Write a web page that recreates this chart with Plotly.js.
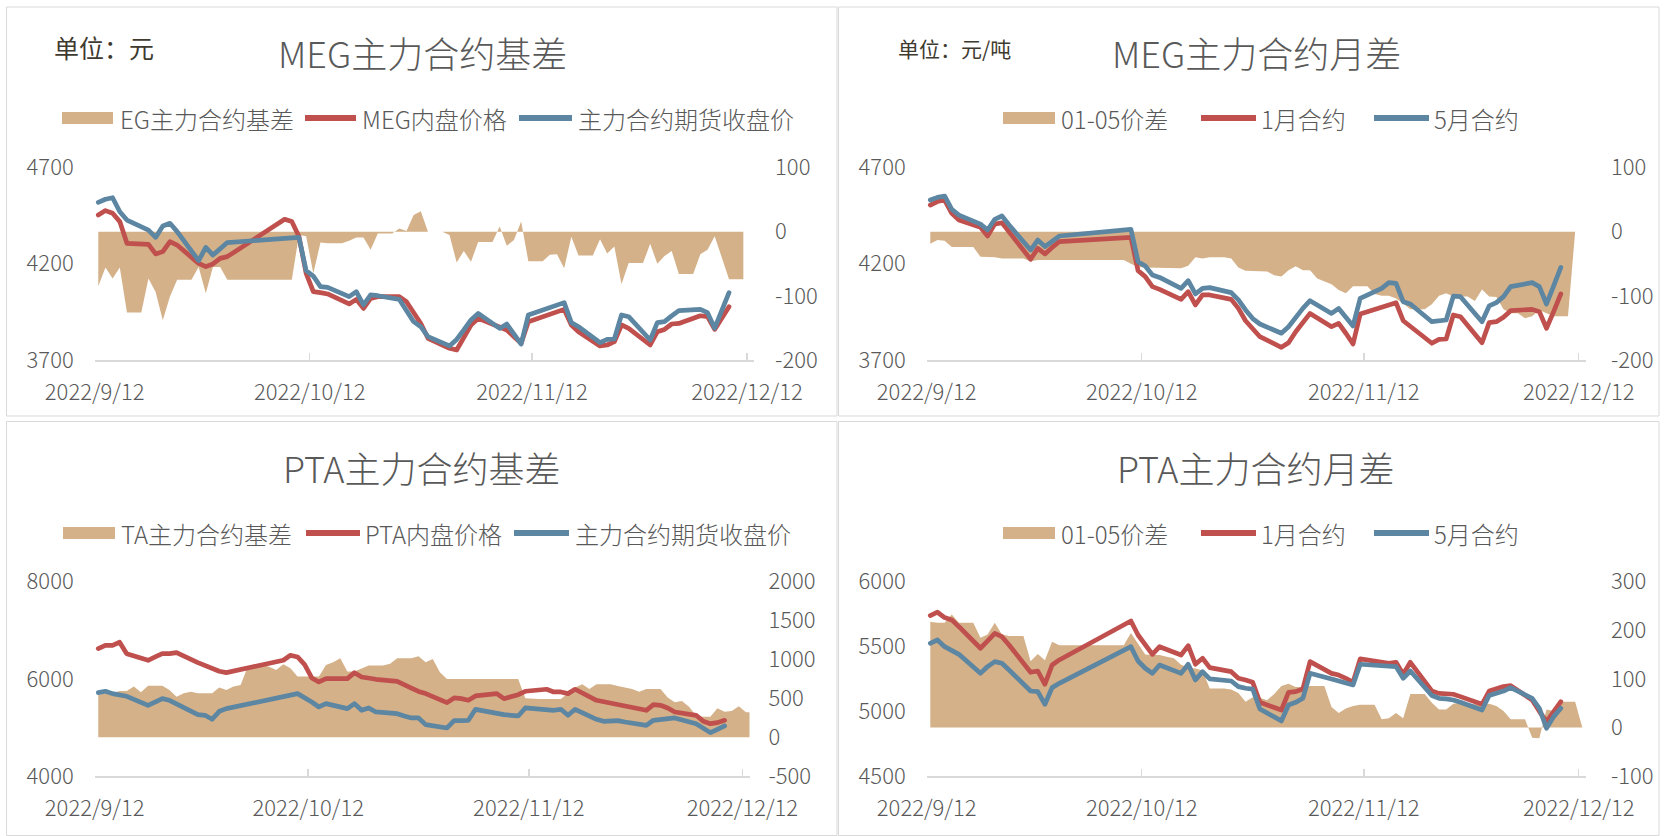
<!DOCTYPE html>
<html><head><meta charset="utf-8">
<script src="https://cdn.plot.ly/plotly-3.0.1.min.js"></script>
<style>
html,body{margin:0;padding:0;background:#fff;}
#chart{width:1665px;height:836px;}
.scatterlayer .js-line{stroke-linejoin:round;stroke-linecap:round;}
</style>
</head><body><div id="chart"></div>
<script>
// ---------- categories ----------
const lineDates = [
 '2022-09-12','2022-09-13','2022-09-14','2022-09-15','2022-09-16',
 '2022-09-19','2022-09-20','2022-09-21','2022-09-22','2022-09-23',
 '2022-09-26','2022-09-27','2022-09-28','2022-09-29','2022-09-30',
 '2022-10-08','2022-10-09',
 '2022-10-10','2022-10-11','2022-10-12','2022-10-13','2022-10-14',
 '2022-10-17','2022-10-18','2022-10-19','2022-10-20','2022-10-21',
 '2022-10-24','2022-10-25','2022-10-26','2022-10-27','2022-10-28',
 '2022-10-31','2022-11-01','2022-11-02','2022-11-03','2022-11-04',
 '2022-11-07','2022-11-08','2022-11-09','2022-11-10','2022-11-11',
 '2022-11-14','2022-11-15','2022-11-16','2022-11-17','2022-11-18',
 '2022-11-21','2022-11-22','2022-11-23','2022-11-24','2022-11-25',
 '2022-11-28','2022-11-29','2022-11-30','2022-12-01','2022-12-02',
 '2022-12-05','2022-12-06','2022-12-07','2022-12-08','2022-12-09'];

const areaDates = [
 '2022-09-12','2022-09-13','2022-09-14','2022-09-15','2022-09-16','2022-09-17','2022-09-18',
 '2022-09-19','2022-09-20','2022-09-21','2022-09-22','2022-09-23','2022-09-24','2022-09-25',
 '2022-09-26','2022-09-27','2022-09-28','2022-09-29','2022-09-30','2022-10-01','2022-10-02',
 '2022-10-03','2022-10-04','2022-10-05','2022-10-06','2022-10-07','2022-10-08','2022-10-09',
 '2022-10-10','2022-10-11','2022-10-12','2022-10-13','2022-10-14','2022-10-15','2022-10-16',
 '2022-10-17','2022-10-18','2022-10-19','2022-10-20','2022-10-21','2022-10-22','2022-10-23',
 '2022-10-24','2022-10-25','2022-10-26','2022-10-27','2022-10-28','2022-10-29','2022-10-30',
 '2022-10-31','2022-11-01','2022-11-02','2022-11-03','2022-11-04','2022-11-05','2022-11-06',
 '2022-11-07','2022-11-08','2022-11-09','2022-11-10','2022-11-11','2022-11-12','2022-11-13',
 '2022-11-14','2022-11-15','2022-11-16','2022-11-17','2022-11-18','2022-11-19','2022-11-20',
 '2022-11-21','2022-11-22','2022-11-23','2022-11-24','2022-11-25','2022-11-26','2022-11-27',
 '2022-11-28','2022-11-29','2022-11-30','2022-12-01','2022-12-02','2022-12-03','2022-12-04',
 '2022-12-05','2022-12-06','2022-12-07','2022-12-08','2022-12-09','2022-12-10','2022-12-11',
 '2022-12-12','2022-12-13'];

const xTickVals = ['2022-09-11 12:00','2022-10-11 12:00','2022-11-11 12:00','2022-12-11 12:00'];
const xTickText = ['2022/9/12','2022/10/12','2022/11/12','2022/12/12'];

// ---------- MEG 主力合约基差 ----------
const megSpot = [4453,4476,4462,4419,4306, 4301,4251,4263,4315,4297, 4202,4185,4199,4228,4237,
 4431,4419,
 4341,4150,4055,4050,4043, 3991,4015,3968,4020,4029, 4029,4003,3942,3890,3813,
 3761,3752,3813,3882,3916, 3873,3856,3821,3787,3899, 3939,3956,3963,3882,3847,
 3773,3778,3795,3882,3864, 3778,3847,3859,3887,3890, 3930,3925,3859,3916,3977];
const megFut = [4519,4535,4543,4470,4427, 4375,4337,4396,4410,4367, 4216,4285,4245,4280,4310,
 null,null,
 4337,4164,4136,4081,4077, 4029,4055,3986,4038,4034, 4015,3960,3899,3873,3821,
 3773,3807,3856,3908,3942, 3864,3887,3835,3783,3934, 3974,3991,3998,3894,3873,
 3790,3807,3809,3934,3925, 3804,3894,3899,3929,3956, 3963,3946,3865,3960,4050];
const megBasis = [
 -85,-56,-73,-56,-126,-126,-126,
 -73,-94,-138,-101,-75,-75,-75,
 -55,-96,-55,-55,-75,-75,-75,
 -75,-75,-75,-75,-75,-75,-75,
 -5,-7,-65,-17,-18,-18,-18,
 -14,-9,-9,-28,-3,-3,-3,
 5,1,26,32,0,0,0,
 -5,-48,-30,-47,-16,-16,-16,
 8,-22,-13,16,-46,-46,-46,
 -36,-35,-57,-8,-37,-37,-37,
 -12,-34,-23,-82,-49,-49,-49,
 -19,-50,-38,-30,-66,-66,-66,
 -35,-28,-7,-40,-74,-74,-74,
 null,null];

// ---------- MEG 主力合约月差 ----------
const meg01 = [4505,4523,4531,4462,4427, 4389,4344,4406,4413,4367, 4223,4280,4251,4285,4315,
 null,null,
 4337,4164,4133,4081,4067, 4015,4055,3986,4038,4038, 4015,3968,3904,3860,3821,
 3766,3790,3847,3899,3942, 3873,3890,3839,3783,3939, 3977,3991,3998,3904,3873,
 3787,3807,3809,3934,3925, 3790,3894,3899,3922,3956, 3963,3951,3865,3951,4043];
const meg05 = [4531,4545,4552,4483,4453, 4406,4375,4431,4448,4401, 4271,4323,4289,4320,4344,
 null,null,
 4379,4211,4188,4142,4129, 4072,4112,4043,4072,4076, 4050,4012,3960,3915,3887,
 3839,3873,3925,3968,4008, 3942,3968,3925,3877,4020, 4072,4102,4098,4003,3991,
 3899,3904,3908,4032,4029, 3899,3981,3998,4029,4081, 4102,4081,3991,4085,4181];
const megSpread = [
 -19,-13,-14,-24,-24,-24,-24,
 -39,-39,-40,-42,-42,-42,-42,
 -46,-44,-44,-44,-44,-44,-44,
 -44,-44,-44,-44,-44,-44,-44,
 -50,-55,-56,-56,-56,-56,-56,
 -57,-53,-40,-42,-40,-40,-40,
 -42,-56,-61,-61,-62,-62,-68,
 -70,-60,-54,-60,-60,-73,-78,
 -82,-91,-96,-85,-85,-85,-97,
 -100,-100,-104,-112,-121,-121,-121,
 -113,-100,-96,-101,-101,-101,-108,
 -90,-101,-102,-121,-127,-127,-135,
 -132,-122,-127,-132,-132,-132,0,
 null,null];

// ---------- PTA 主力合约基差 ----------
const ptaSpot = [6619,6687,6687,6750,6516, 6380,6448,6516,6516,6537, 6332,6277,6209,6154,6126,
 6380,6482,
 6448,6291,6017,5935,6003, 6003,6126,6038,6003,5990, 5949,5870,5810,5740,5696,
 5511,5607,5593,5559,5648, 5696,5593,5627,5675,5744, 5785,5730,5730,5696,5785,
 5559,5525,5504,5470,5443, 5354,5470,5456,5402,5320, 5251,5128,5080,5101,5149];
const ptaFut = [5716,5744,5696,5675,5641, 5456,5525,5593,5559,5491, 5265,5251,5169,5333,5388,
 null,null,
 5696,5614,5525,5422,5491, 5388,5491,5354,5402,5320, 5285,5238,5197,5197,5060,
 4991,5142,5142,5149,5374, 5285,5265,5251,5238,5402, 5374,5354,5374,5251,5374,
 5169,5128,5128,5142,5114, 5046,5149,5169,5183,5197, 5080,4978,4896,4964,5032];
const ptaBasis = [
 543,564,564,594,594,650,577,
 662,662,662,607,521,564,585,
 564,564,564,637,607,650,671,
 906,906,927,906,863,936,885,
 778,778,778,778,927,962,1013,
 842,842,885,919,919,919,944,
 1013,1013,1013,1040,962,1004,833,
 748,748,748,748,748,748,748,
 748,748,748,748,500,491,491,
 491,491,491,564,637,679,620,
 679,679,679,658,637,620,585,
 620,620,620,509,449,466,393,
 278,265,265,372,329,338,397,
 321,321];

// ---------- PTA 主力合约月差 ----------
const pta01 = [5736,5762,5721,5703,5651, 5485,5541,5600,5574,5510, 5300,5310,5208,5356,5395,
 null,null,
 5695,5587,5510,5438,5497, 5433,5505,5362,5408,5336, 5305,5254,5241,5223,5069,
 5010,5146,5151,5172,5382, 5292,5279,5254,5223,5403, 5382,5369,5377,5285,5377,
 5156,5138,5138,5131,5113, 5054,5156,5177,5190,5197, 5087,5000,4921,4997,5074];
const pta05 = [5523,5549,5497,5464,5438, 5292,5344,5382,5369,5318, 5156,5151,5054,5182,5215,
 null,null,
 5497,5387,5331,5292,5356, 5292,5362,5241,5305,5249, 5233,5190,5177,5170,5018,
 4926,5049,5069,5100,5292, 5249,5233,5215,5203,5362, 5351,5344,5344,5254,5310,
 5121,5100,5095,5087,5069, 5010,5121,5138,5156,5182, 5100,5023,4869,4959,5023];
const ptaSpread = [
 217,215,215,232,215,215,215,
 184,191,215,191,188,188,188,
 136,151,138,176,169,169,169,
 169,169,169,169,169,169,169,
 194,172,150,149,149,145,142,
 129,123,121,117,80,80,80,
 78,71,53,62,61,56,69,
 85,90,83,83,85,85,85,
 42,30,39,44,47,47,47,
 17,19,30,19,69,69,69,
 51,37,37,49,51,49,47,
 46,49,44,34,17,17,17,
 -21,-22,37,34,53,53,53,
 0,null];

// ---------- texts & tick labels ----------
const titles = ['MEG主力合约基差','MEG主力合约月差','PTA主力合约基差','PTA主力合约月差'];
const seriesNames = [
 ['EG主力合约基差','MEG内盘价格','主力合约期货收盘价'],
 ['01-05价差','1月合约','5月合约'],
 ['TA主力合约基差','PTA内盘价格','主力合约期货收盘价'],
 ['01-05价差','1月合约','5月合约']];
const unitLabels = ['单位：元','单位：元/吨'];
const leftTicks = [[3700,4200,4700],[3700,4200,4700],[4000,6000,8000],[4500,5000,5500,6000]];
const rightTickVals = [[-200,-100,0,100],[-200,-100,0,100],[-500,0,500,1000,1500,2000],[-100,0,100,200,300]];
const rightTickText = [['-200','-100','0','100'],['-200','-100','0','100'],['-500','0','500','1000','1500','2000'],['-100','0','100','200','300']];

// ---------- styling / layout ----------
const W = 1665, H = 836;
const fx = p => p / W, fy = p => 1 - p / H;
const TAN = 'rgb(212,177,137)', RED = 'rgb(192,80,77)', BLUE = 'rgb(92,134,162)';
const FONT = '"Noto Sans CJK SC","Noto Sans",sans-serif';
const TXT = '#595959';

const P = [
 {x0:94.7, x1:754.1, top:167.5, bot:360, rL:[3700,4700], rR:[-200,100], sL:20, sR:20,
  area:megBasis, red:megSpot, blue:megFut, tx:422, ty:52, ly:118,
  leg:{sw:[62,113], t1:119, rl:[305,356], t2:361, bl:[519,572], t3:577}},
 {x0:926.7, x1:1585.9, top:167.5, bot:360, rL:[3700,4700], rR:[-200,100], sL:20, sR:24,
  area:megSpread, red:meg01, blue:meg05, tx:1256, ty:52, ly:118,
  leg:{sw:[1003,1055], t1:1060, rl:[1201,1256], t2:1260, bl:[1374,1429], t3:1433}},
 {x0:94.7, x1:749.5, top:581.3, bot:776.3, rL:[4000,8000], rR:[-500,2000], sL:20, sR:18,
  area:ptaBasis, red:ptaSpot, blue:ptaFut, tx:422, ty:467, ly:533,
  leg:{sw:[63,115], t1:120, rl:[306,360], t2:364, bl:[514,569], t3:574}},
 {x0:926.7, x1:1585.9, top:581.3, bot:776.3, rL:[4500,6000], rR:[-100,300], sL:20, sR:24,
  area:ptaSpread, red:pta01, blue:pta05, tx:1256, ty:467, ly:533,
  leg:{sw:[1003,1055], t1:1060, rl:[1201,1256], t2:1260, bl:[1374,1429], t3:1433}}
];

const data = [];
const layout = {
 width: W, height: H, margin:{l:0,r:0,t:0,b:0},
 paper_bgcolor:'#fff', plot_bgcolor:'rgba(0,0,0,0)',
 font:{family:FONT, color:TXT}, showlegend:false,
 shapes:[], annotations:[]
};

P.forEach((p, i) => {
  const xid = i === 0 ? 'x' : 'x' + (i + 1);
  const yA = 2 * i + 1, yL = 2 * i + 2;
  const yAid = yA === 1 ? 'y' : 'y' + yA, yLid = 'y' + yL;
  const xKey = i === 0 ? 'xaxis' : 'xaxis' + (i + 1);
  const yAKey = yA === 1 ? 'yaxis' : 'yaxis' + yA, yLKey = 'yaxis' + yL;

  layout[xKey] = {
    domain:[fx(p.x0), fx(p.x1)], anchor:yAid, type:'date',
    range:['2022-09-11 12:00','2022-12-12 12:00'],
    tickmode:'array', tickvals:xTickVals, ticktext:xTickText,
    ticks:'inside', ticklen:7, tickwidth:1.5, tickcolor:'#d9d9d9',
    showline:true, linecolor:'#d9d9d9', linewidth:1.5,
    showgrid:false, zeroline:false, fixedrange:true,
    tickfont:{size:22, color:TXT, family:FONT, weight:300},
    ticklabelshift:3.6, ticklabelstandoff:12
  };
  layout[yAKey] = {
    domain:[fy(p.bot), fy(p.top)], anchor:xid, side:'right',
    range:p.rR, tickmode:'array', tickvals:rightTickVals[i], ticktext:rightTickText[i],
    showgrid:false, zeroline:false, showline:false, ticks:'', fixedrange:true,
    tickfont:{size:22, color:TXT, family:FONT, weight:300}, ticklabelstandoff:p.sR
  };
  layout[yLKey] = {
    overlaying:yAid, anchor:xid, side:'left',
    range:p.rL, tickmode:'array', tickvals:leftTicks[i],
    showgrid:false, zeroline:false, showline:false, ticks:'', fixedrange:true,
    tickfont:{size:22, color:TXT, family:FONT, weight:300}, ticklabelstandoff:p.sL
  };

  data.push({type:'scatter', mode:'lines', x:areaDates, y:p.area, xaxis:xid, yaxis:yAid,
    fill:'tozeroy', fillcolor:TAN, line:{width:0, color:TAN}, hoverinfo:'skip', name:seriesNames[i][0]});
  data.push({type:'scatter', mode:'lines', x:lineDates, y:p.red, xaxis:xid, yaxis:yLid,
    connectgaps:true, line:{width:4.7, color:RED}, hoverinfo:'skip', name:seriesNames[i][1]});
  data.push({type:'scatter', mode:'lines', x:lineDates, y:p.blue, xaxis:xid, yaxis:yLid,
    connectgaps:true, line:{width:4.7, color:BLUE}, hoverinfo:'skip', name:seriesNames[i][2]});

  // title
  layout.annotations.push({xref:'paper', yref:'paper', x:fx(p.tx), y:fy(p.ty), xanchor:'center', yanchor:'middle',
    showarrow:false, text:titles[i], font:{size:36, color:TXT, family:FONT, weight:300}});
  // custom legend
  const L = p.leg, ly = p.ly;
  layout.shapes.push({type:'rect', xref:'paper', yref:'paper', x0:fx(L.sw[0]), x1:fx(L.sw[1]),
    y0:fy(ly + 6), y1:fy(ly - 6), fillcolor:TAN, line:{width:0}});
  layout.shapes.push({type:'line', xref:'paper', yref:'paper', x0:fx(L.rl[0]), x1:fx(L.rl[1]),
    y0:fy(ly), y1:fy(ly), line:{color:RED, width:6}});
  layout.shapes.push({type:'line', xref:'paper', yref:'paper', x0:fx(L.bl[0]), x1:fx(L.bl[1]),
    y0:fy(ly), y1:fy(ly), line:{color:BLUE, width:6}});
  [L.t1, L.t2, L.t3].forEach((tx, k) => {
    layout.annotations.push({xref:'paper', yref:'paper', x:fx(tx), y:fy(ly), xanchor:'left', yanchor:'middle',
      showarrow:false, text:seriesNames[i][k], font:{size:24, color:TXT, family:FONT, weight:300}, borderpad:0});
  });
});

// unit labels
layout.annotations.push({xref:'paper', yref:'paper', x:fx(53), y:fy(47), xanchor:'left', yanchor:'middle',
  showarrow:false, text:unitLabels[0], font:{size:25, color:'#3f3a2f', family:FONT}, borderpad:0});
layout.annotations.push({xref:'paper', yref:'paper', x:fx(897), y:fy(48), xanchor:'left', yanchor:'middle',
  showarrow:false, text:unitLabels[1], font:{size:21, color:'#3f3a2f', family:FONT}, borderpad:0});

// panel frames
[[6.5,7,837,416],[838.5,7,1659,416],[6.5,421.5,837,835.5],[838.5,421.5,1659,835.5]].forEach(b => {
  layout.shapes.push({type:'rect', xref:'paper', yref:'paper', x0:fx(b[0]), x1:fx(b[2]), y0:fy(b[3]), y1:fy(b[1]),
    line:{color:'#d9d9d9', width:1}, fillcolor:'rgba(0,0,0,0)', layer:'below'});
});

Plotly.newPlot('chart', data, layout, {displayModeBar:false, staticPlot:true});
</script></body></html>
